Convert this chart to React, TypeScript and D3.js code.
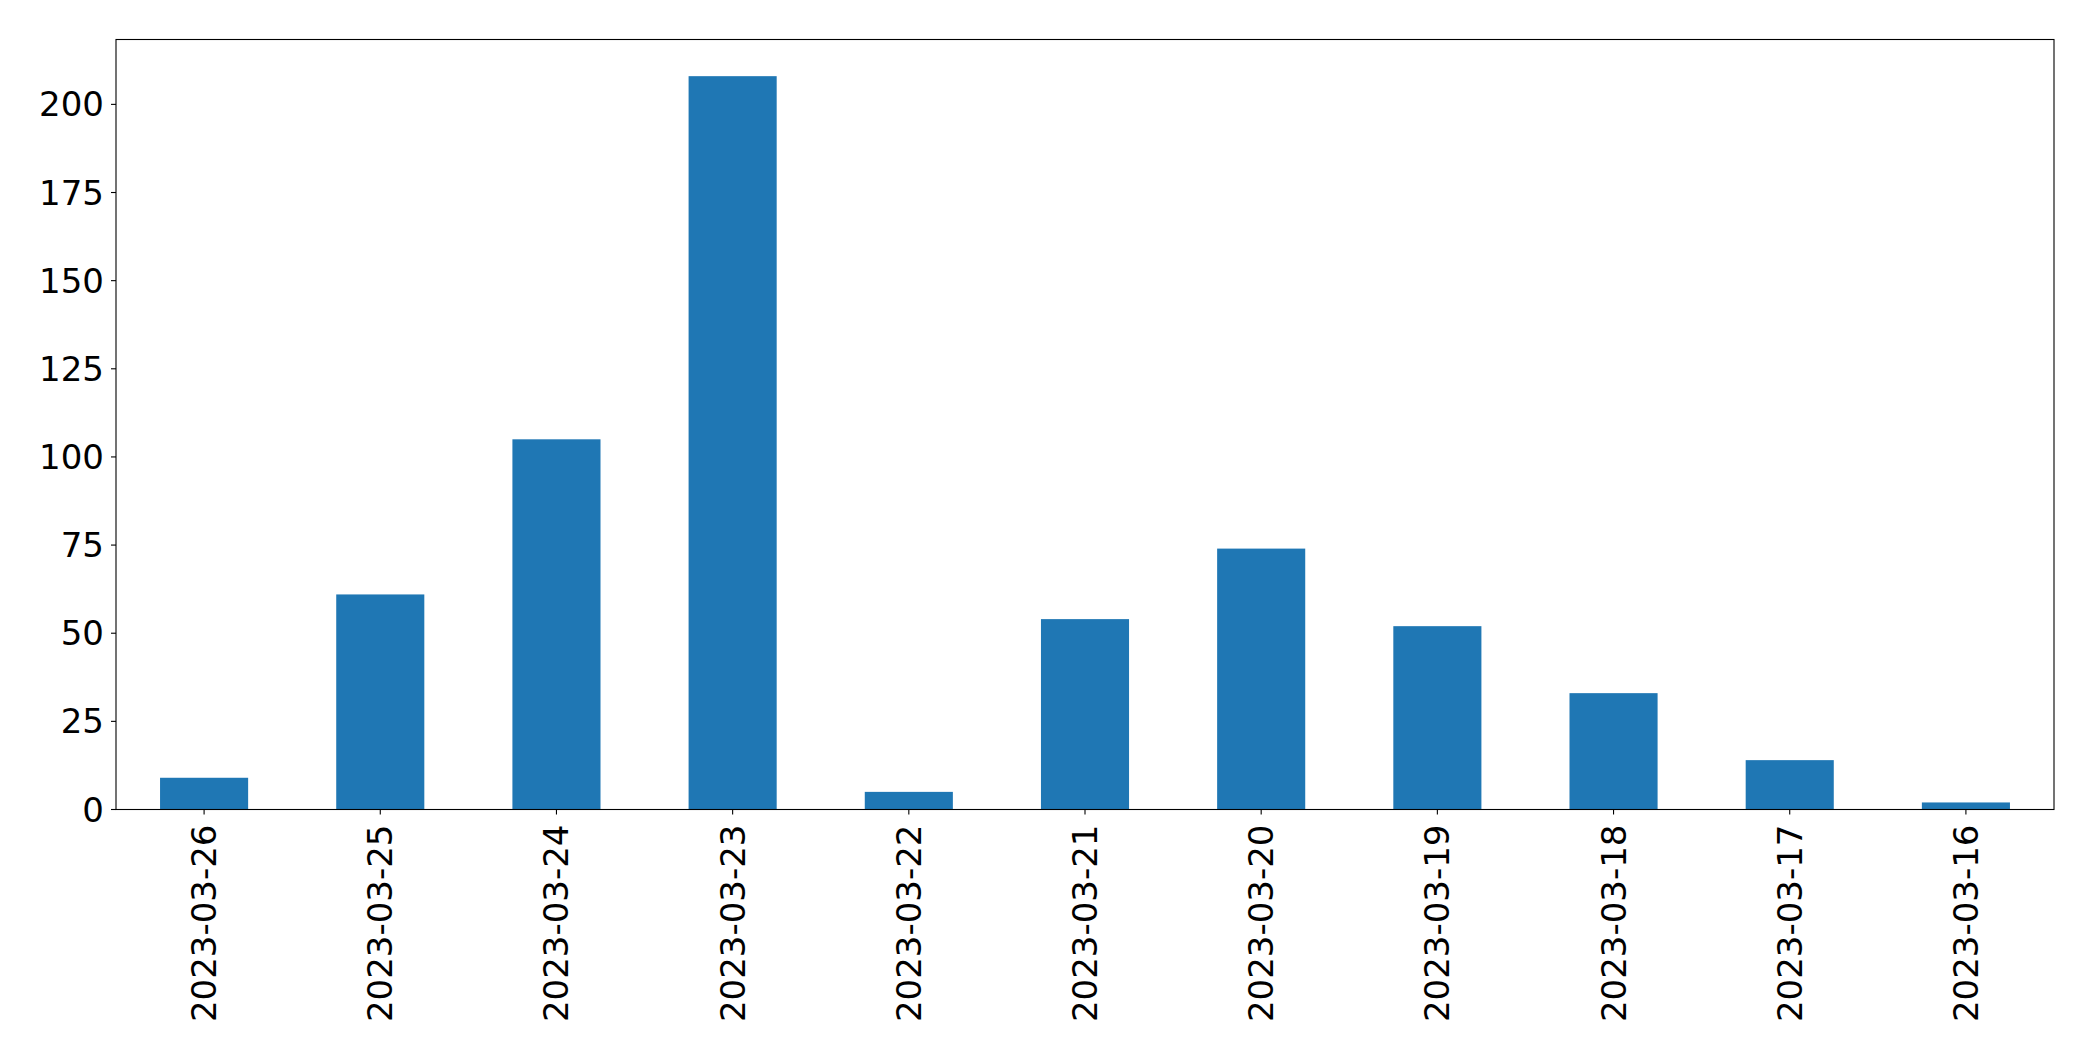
import React from "react";
import * as d3 from "d3";

const categories = [
  "2023-03-26", "2023-03-25", "2023-03-24", "2023-03-23", "2023-03-22", "2023-03-21",
  "2023-03-20", "2023-03-19", "2023-03-18", "2023-03-17", "2023-03-16",
];
const values = [9, 61, 105, 208, 5, 54, 74, 52, 33, 14, 2];
const yTicks = [0, 25, 50, 75, 100, 125, 150, 175, 200];

const W = 2093;
const H = 1061;
const left = 116;
const right = 2054;
const top = 39.5;
const bottom = 809.5;
const FONT = "'DejaVu Sans', sans-serif";
const FS = 34;

export default function App() {
  const x = d3.scaleBand<string>().domain(categories).range([left, right]).paddingInner(0.5).paddingOuter(0.25);
  const ymax = d3.max(values)! * 1.05;
  const y = d3.scaleLinear().domain([0, ymax]).range([bottom, top]);
  const center = (c: string) => x(c)! + x.bandwidth() / 2;
  return (
    <svg width={W} height={H} style={{ position: "absolute", left: 0, top: 0, background: "#fff" }}>
      <rect x={0} y={0} width={W} height={H} fill="#fff" />
      {categories.map((c, i) => (
        <rect key={c} x={x(c)} y={y(values[i])} width={x.bandwidth()} height={bottom - y(values[i])} fill="#1f77b4" />
      ))}
      <rect x={left} y={top} width={right - left} height={bottom - top} fill="none" stroke="#000" strokeWidth={1.1} />
      {yTicks.map((t) => (
        <g key={t}>
          <line x1={left - 5} x2={left} y1={y(t)} y2={y(t)} stroke="#000" strokeWidth={1.1} />
          <text x={left - 12} y={y(t)} textAnchor="end" dominantBaseline="central" fontFamily={FONT} fontSize={FS} fill="#000">{t}</text>
        </g>
      ))}
      {categories.map((c) => (
        <g key={c}>
          <line x1={center(c)} x2={center(c)} y1={bottom} y2={bottom + 5} stroke="#000" strokeWidth={1.1} />
          <text transform={`translate(${center(c)},${bottom + 15}) rotate(-90)`} textAnchor="end" dominantBaseline="central" fontFamily={FONT} fontSize={FS} fill="#000">{c}</text>
        </g>
      ))}
    </svg>
  );
}
